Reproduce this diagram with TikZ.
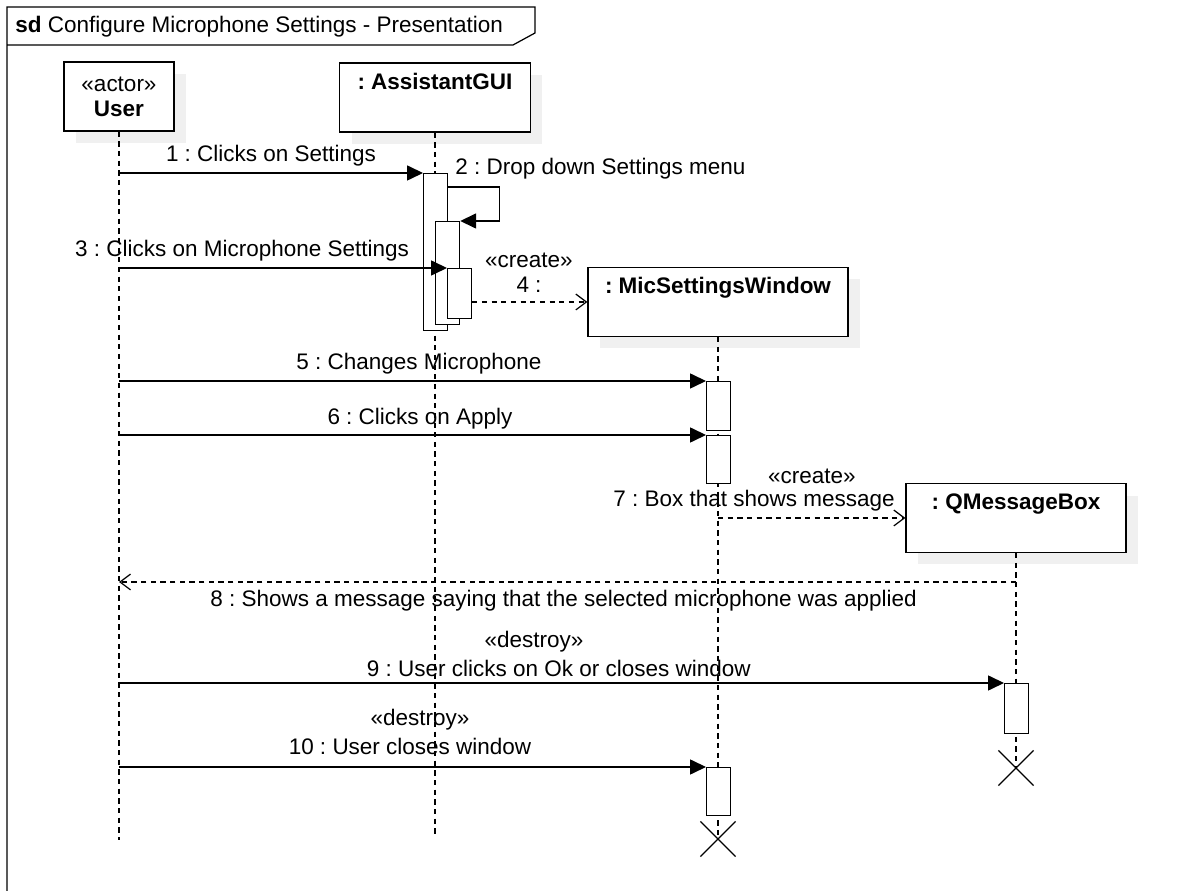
\documentclass[tikz,border=0pt]{standalone}
\usepackage{fontspec}
\setmainfont{Liberation Sans}
\usetikzlibrary{arrows.meta, shapes.misc, shadows, positioning}
\definecolor{shadowgray}{RGB}{240,240,240}
\frenchspacing

\begin{document}
\begin{tikzpicture}[x=0.02cm, y=-0.02cm,
    font=\fontsize{12.8}{14.2}\selectfont,
    obj/.style={rectangle, draw, fill=white, line width=0.7pt, minimum height=1.38cm, align=center, inner sep=2pt,
      general shadow={fill=shadowgray, shadow xshift=0.24cm, shadow yshift=-0.24cm}},
    act/.style={rectangle, draw, fill=white, line width=0.7pt, minimum width=0.48cm, inner sep=0, anchor=north west},
    life/.style={line width=0.7pt, dash pattern=on 3pt off 2.5pt},
    msg/.style={line width=0.7pt, -{Triangle[length=9pt, width=8.5pt]}},
    reply/.style={line width=0.7pt, dash pattern=on 3pt off 2.5pt, -{Straight Barb[length=6pt, width=9pt]}},
    kill/.style={cross out, draw, line width=0.7pt, minimum size=0.68cm, inner sep=0},
    lbl/.style={inner sep=0}]

    \useasboundingbox (0,0) rectangle (1181,891);

    % frame
    \draw[line width=0.7pt] (7,891) -- (7,7) -- (535,7) -- (535,33) -- (513,45) -- (7,45);
    \node[lbl, anchor=west] (title) at (15,27) {\textbf{sd} Configure Microphone Settings - Presentation};

    % lifeline heads
    \node[obj, minimum width=2.2cm] (user) at (119,96.5) {«actor»\\\textbf{User}};
    \node[obj, minimum width=3.82cm] (gui) at (435,97.5) {\textbf{: AssistantGUI}\\\strut};
    \node[obj, minimum width=5.2cm] (mic) at (718,302) {\textbf{: MicSettingsWindow}\\\strut};
    \node[obj, minimum width=4.4cm] (qmb) at (1016,518) {\textbf{: QMessageBox}\\\strut};

    \node[kill] (xmic) at (718,839) {};
    \node[kill] (xqmb) at (1016,768) {};

    % lifelines
    \draw[life] (user.south) -- ++(0,708);
    \draw[life] (gui.south) -- ++(0,701);
    \draw[life] (mic.south) -- (xmic.center);
    \draw[life] (qmb.south) -- (xqmb.center);

    % activations
    \node[act, minimum height=3.14cm] (a1) at (423,173) {};
    \node[act, minimum height=2.06cm] (a2) at (435,221) {};
    \node[act, minimum height=1.0cm] (a3) at (447,268) {};
    \node[act, minimum height=0.98cm] (a5) at (706,381) {};
    \node[act, minimum height=0.96cm] (a6) at (706,435) {};
    \node[act, minimum height=1.0cm] (a9) at (1004,683) {};
    \node[act, minimum height=0.96cm] (a10) at (706,767) {};

    % messages
    \draw[msg] (user.south |- a1.north west) -- (a1.north west);
    \draw[msg] (a1.north east) ++(0,14) -- ++(51,0) |- (a2.north east);
    \draw[msg] (user.south |- a3.north west) -- (a3.north west);
    \draw[reply] (a3.east |- mic.west) -- (mic.west);
    \draw[msg] (user.south |- a5.north west) -- (a5.north west);
    \draw[msg] (user.south |- a6.north west) -- (a6.north west);
    \draw[reply] (mic.south |- qmb.west) -- (qmb.west);
    \coordinate (r8) at (1016,582);
    \draw[reply] (r8) -- (user.south |- r8);
    \draw[msg] (user.south |- a9.north west) -- (a9.north west);
    \draw[msg] (user.south |- a10.north west) -- (a10.north west);

    % labels
    \node[lbl] (l1) at (271,156) {1 : Clicks on Settings};
    \node[lbl, anchor=west] (l2) at (455,169) {2 : Drop down Settings menu};
    \node[lbl] (l3) at (242,251) {3 : Clicks on Microphone Settings};
    \node[lbl, align=center] (l4) at (529,273) {«create»\\4 :};
    \node[lbl] (l5) at (419,364) {5 : Changes Microphone};
    \node[lbl] (l6) at (420,419) {6 : Clicks on Apply};
    \node[lbl] (l7a) at (812,476) {«create»};
    \node[lbl, anchor=east] (l7) at (895,501) {7 : Box that shows message};
    \node[lbl, anchor=east] (l8) at (917,601) {8 : Shows a message saying that the selected microphone was applied};
    \node[lbl] (l9a) at (534,642) {«destroy»};
    \node[lbl, anchor=east] (l9) at (751,668) {9 : User clicks on Ok or closes window};
    \node[lbl] (l10a) at (420,720) {«destroy»};
    \node[lbl] (l10) at (410,746) {10 : User closes window};
\end{tikzpicture}
\end{document}
